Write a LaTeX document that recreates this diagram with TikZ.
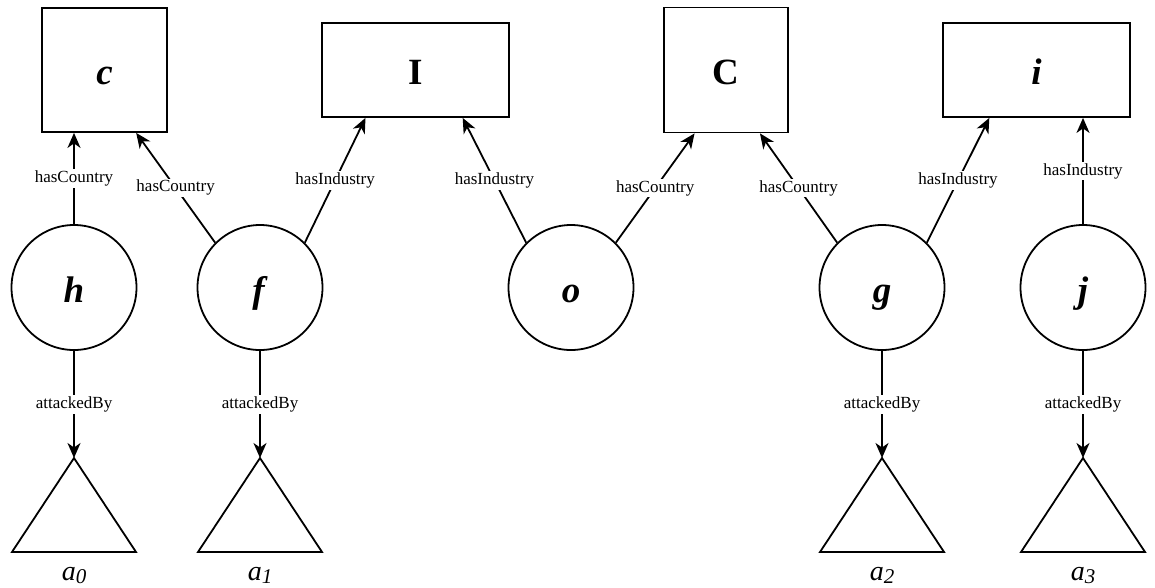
\documentclass[tikz,border=0pt]{standalone}
\usepackage{fontspec}
\setmainfont{Liberation Serif}
\usetikzlibrary{arrows.meta,calc}
\tikzset{
  box/.style={draw, line width=1.8pt, rectangle, inner sep=0pt, text height=28pt, text depth=0pt, font=\fontsize{37}{37}\selectfont\bfseries},
  ent/.style={draw, line width=1.8pt, circle, minimum size=125pt, inner sep=0pt, text height=29pt, text depth=0pt, font=\fontsize{37}{37}\selectfont\bfseries\itshape},
  rel/.style={line width=1.8pt, -{Stealth[length=15pt,width=13pt,inset=4.5pt]}},
  elab/.style={fill=white, inner sep=1.5pt, font=\fontsize{17}{17}\selectfont},
  tri/.style={line width=1.8pt, line join=miter},
  alab/.style={inner sep=0pt, anchor=base, font=\fontsize{28}{28}\selectfont\itshape}
}
\newcommand{\alabel}[1]{a\raisebox{-3pt}{\fontsize{21}{21}\selectfont #1}}
\begin{document}
\begin{tikzpicture}[x=1pt,y=-1pt]
\useasboundingbox (0,0) rectangle (1155,587);
% boxes
\node[box, minimum width=125pt, minimum height=124pt] (c) at (104.5,70) {\itshape c\/};
\node[box, minimum width=187pt, minimum height=94pt] (I) at (415.5,70) {I};
\node[box, minimum width=124pt, minimum height=125pt] (C) at (726,70) {C};
\node[box, minimum width=187pt, minimum height=94pt] (i) at (1036.5,70) {\itshape i\/};
% circles
\node[ent] (h) at (74,287.5) {h};
\node[ent] (f) at (260,287.5) {f\/};
\node[ent] (o) at (571,287.5) {o};
\node[ent] (g) at (882,287.5) {g};
\node[ent] (j) at (1083,287.5) {j};
% triangle apexes
\coordinate (t0) at (74,458);
\coordinate (t1) at (260,458);
\coordinate (t2) at (882,458);
\coordinate (t3) at (1083,458);
\foreach \t in {t0,t1,t2,t3}{
  \draw[tri] (\t) -- ++(62,94) -- ++(-124,0) -- cycle;
}
\node[alab] (a0) at (74,580) {\alabel{0}};
\node[alab] (a1) at (260,580) {\alabel{1}};
\node[alab] (a2) at (882,580) {\alabel{2}};
\node[alab] (a3) at (1083,580) {\alabel{3}};
% upward relations
\draw[rel] (h.north) -- node[elab] {hasCountry} (h.north |- c.south);
\draw[rel] (f.135) -- node[elab] {hasCountry} ($(c.south west)!0.75!(c.south east)$);
\draw[rel] (f.45) -- node[elab] {hasIndustry} ($(I.south west)!0.235!(I.south east)$);
\draw[rel] (o.135) -- node[elab] {hasIndustry} ($(I.south west)!0.75!(I.south east)$);
\draw[rel] (o.45) -- node[elab] {hasCountry} ($(C.south west)!0.25!(C.south east)$);
\draw[rel] (g.135) -- node[elab] {hasCountry} ($(C.south west)!0.77!(C.south east)$);
\draw[rel] (g.45) -- node[elab] {hasIndustry} ($(i.south west)!0.25!(i.south east)$);
\draw[rel] (j.north) -- node[elab] {hasIndustry} (j.north |- i.south);
% attackedBy
\draw[rel] (h.south) -- node[elab] {attackedBy} (t0);
\draw[rel] (f.south) -- node[elab] {attackedBy} (t1);
\draw[rel] (g.south) -- node[elab] {attackedBy} (t2);
\draw[rel] (j.south) -- node[elab] {attackedBy} (t3);
\end{tikzpicture}
\end{document}
